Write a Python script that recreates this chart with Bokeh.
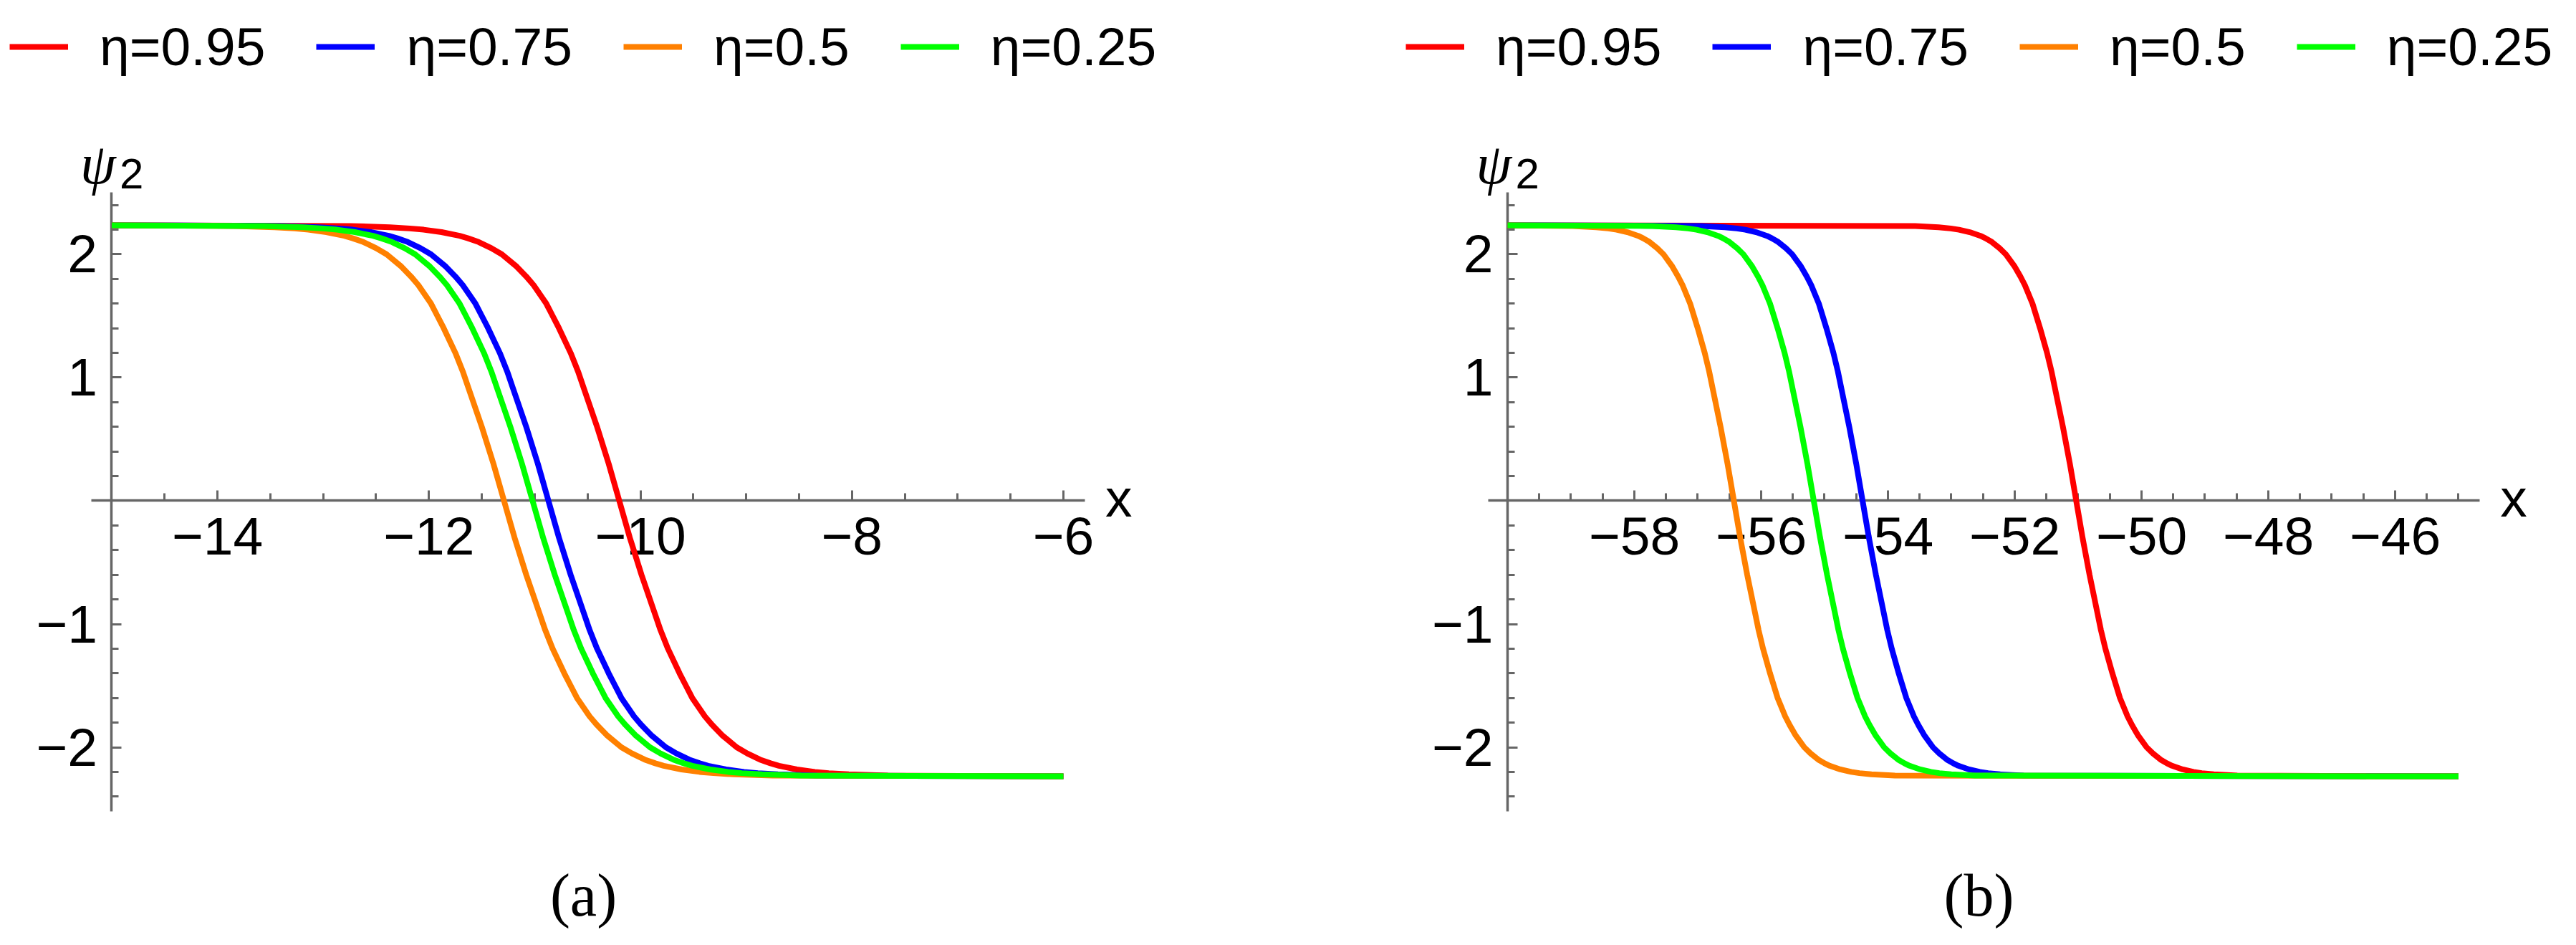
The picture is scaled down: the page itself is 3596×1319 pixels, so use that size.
from bokeh.plotting import figure
from bokeh.models import FixedTicker, Label, Legend, LegendItem, Range1d
from bokeh.layouts import row
from bokeh.embed import file_html
from bokeh.resources import INLINE

# ---------------- data ----------------
psi_levels = [2.236, 2.23, 2.22, 2.21, 2.2, 2.18, 2.15, 2.13, 2.1, 2.05, 2.0, 1.9, 1.82, 1.75, 1.6, 1.5,
              1.4, 1.2, 1.05, 0.9, 0.6, 0.3, 0.0, -0.3, -0.6, -0.9, -1.05, -1.2, -1.4, -1.5, -1.6, -1.75,
              -1.82, -1.9, -2.0, -2.05, -2.1, -2.13, -2.15, -2.18, -2.2, -2.21, -2.22, -2.23, -2.236]

# panel (a)
xa_red = [-15.0, -12.74, -12.37, -12.18, -12.05, -11.88, -11.71, -11.63, -11.53, -11.41, -11.31, -11.17,
          -11.08, -11.01, -10.89, -10.83, -10.77, -10.66, -10.59, -10.53, -10.41, -10.30, -10.20,
          -10.10, -9.99, -9.87, -9.81, -9.74, -9.63, -9.57, -9.51, -9.39, -9.32, -9.23, -9.09, -8.99,
          -8.87, -8.77, -8.69, -8.52, -8.35, -8.22, -8.03, -7.66, -6.0]
xa_blue = [-15.0, -13.41, -13.04, -12.85, -12.72, -12.55, -12.38, -12.30, -12.20, -12.08, -11.98, -11.84,
           -11.75, -11.68, -11.56, -11.50, -11.44, -11.33, -11.26, -11.20, -11.08, -10.97, -10.87,
           -10.77, -10.66, -10.54, -10.48, -10.41, -10.30, -10.24, -10.18, -10.06, -9.99, -9.90, -9.76,
           -9.66, -9.54, -9.44, -9.36, -9.19, -9.02, -8.89, -8.70, -8.33, -6.0]
xa_orange = [-15.0, -13.83, -13.46, -13.27, -13.14, -12.97, -12.80, -12.72, -12.62, -12.50, -12.40, -12.26,
             -12.17, -12.10, -11.98, -11.92, -11.86, -11.75, -11.68, -11.62, -11.50, -11.39, -11.29,
             -11.19, -11.08, -10.96, -10.90, -10.83, -10.72, -10.66, -10.60, -10.48, -10.41, -10.32,
             -10.18, -10.08, -9.96, -9.86, -9.78, -9.61, -9.44, -9.31, -9.12, -8.75, -6.0]
xa_green = [-15.0, -13.56, -13.19, -13.00, -12.87, -12.70, -12.53, -12.45, -12.35, -12.23, -12.13, -11.99,
            -11.90, -11.83, -11.71, -11.65, -11.59, -11.48, -11.41, -11.35, -11.23, -11.12, -11.02,
            -10.92, -10.81, -10.69, -10.63, -10.56, -10.45, -10.39, -10.33, -10.21, -10.14, -10.05,
            -9.91, -9.81, -9.69, -9.59, -9.51, -9.34, -9.17, -9.04, -8.85, -8.48, -6.0]

# panel (b)
xb_red = [-60.0, -53.57, -53.20, -53.01, -52.88, -52.71, -52.54, -52.46, -52.36, -52.24, -52.14, -52.00,
          -51.91, -51.84, -51.72, -51.66, -51.60, -51.49, -51.42, -51.36, -51.24, -51.13, -51.03,
          -50.93, -50.82, -50.70, -50.64, -50.57, -50.46, -50.40, -50.34, -50.22, -50.15, -50.06,
          -49.92, -49.82, -49.70, -49.60, -49.52, -49.35, -49.18, -49.05, -48.86, -48.49, -45.0]
xb_blue = [-60.0, -56.94, -56.57, -56.38, -56.25, -56.08, -55.91, -55.83, -55.73, -55.61, -55.51, -55.37,
           -55.28, -55.21, -55.09, -55.03, -54.97, -54.86, -54.79, -54.73, -54.61, -54.50, -54.40,
           -54.30, -54.19, -54.07, -54.01, -53.94, -53.83, -53.77, -53.71, -53.59, -53.52, -53.43,
           -53.29, -53.19, -53.07, -52.97, -52.89, -52.72, -52.55, -52.42, -52.23, -51.86, -45.0]
xb_orange = [-60.0, -58.97, -58.60, -58.41, -58.28, -58.11, -57.94, -57.86, -57.76, -57.64, -57.54, -57.40,
             -57.31, -57.24, -57.12, -57.06, -57.00, -56.89, -56.82, -56.76, -56.64, -56.53, -56.43,
             -56.33, -56.22, -56.10, -56.04, -55.97, -55.86, -55.80, -55.74, -55.62, -55.55, -55.46,
             -55.32, -55.22, -55.10, -55.00, -54.92, -54.75, -54.58, -54.45, -54.26, -53.89, -45.0]
xb_green = [-60.0, -57.71, -57.34, -57.15, -57.02, -56.85, -56.68, -56.60, -56.50, -56.38, -56.28, -56.14,
            -56.05, -55.98, -55.86, -55.80, -55.74, -55.63, -55.56, -55.50, -55.38, -55.27, -55.17,
            -55.07, -54.96, -54.84, -54.78, -54.71, -54.60, -54.54, -54.48, -54.36, -54.29, -54.20,
            -54.06, -53.96, -53.84, -53.74, -53.66, -53.49, -53.32, -53.19, -53.00, -52.63, -45.0]

series_labels = ["η=0.95", "η=0.75", "η=0.5", "η=0.25"]
series_colors = ["#ff0000", "#0000ff", "#ff8000", "#00ff00"]

# ticks
xa_major = [-14, -12, -10, -8, -6]
xa_major_labels = ["−14", "−12", "−10", "−8", "−6"]
xa_minor = [-14.5, -13.5, -13, -12.5, -11.5, -11, -10.5, -9.5, -9, -8.5, -7.5, -7, -6.5]
xb_major = [-58, -56, -54, -52, -50, -48, -46]
xb_major_labels = ["−58", "−56", "−54", "−52", "−50", "−48", "−46"]
xb_minor = [-59.5, -59, -58.5, -57.5, -57, -56.5, -55.5, -55, -54.5, -53.5, -53, -52.5,
            -51.5, -51, -50.5, -49.5, -49, -48.5, -47.5, -47, -46.5, -45.5, -45]
y_major = [-2, -1, 1, 2]
y_major_labels = ["−2", "−1", "1", "2"]
y_minor = [-2.4, -2.2, -1.8, -1.6, -1.4, -1.2, -0.8, -0.6, -0.4, -0.2,
           0.2, 0.4, 0.6, 0.8, 1.2, 1.4, 1.6, 1.8, 2.2, 2.4]

# ---------------- styling ----------------
AX = "#666666"
FONT = "Liberation Sans"
SERIF = "Liberation Serif"
W, H = 1790, 1303
Y_VIEW = (-3.5145, 4.061)
Y_BOUNDS = (-2.52, 2.50)


def make_panel(xs_list, x_view, x_bounds, yaxis_at, xmaj, xlab, xmin, legend_x, caption_x, caption):
    p = figure(width=W, height=H, output_backend="svg", toolbar_location=None,
               x_range=Range1d(*x_view), y_range=Range1d(*Y_VIEW), title=None)
    p.min_border = 0
    p.min_border_left = 0
    p.min_border_right = 0
    p.min_border_top = 0
    p.min_border_bottom = 0
    p.xgrid.visible = False
    p.ygrid.visible = False
    p.outline_line_color = None
    p.background_fill_color = "white"
    p.border_fill_color = "white"

    renderers = []
    for xs, col in zip(xs_list, series_colors):
        r = p.line(xs, psi_levels, line_color=col, line_width=8, level="overlay")
        renderers.append(r)

    p.xaxis.fixed_location = 0
    p.yaxis.fixed_location = yaxis_at
    p.xaxis.bounds = x_bounds
    p.yaxis.bounds = Y_BOUNDS
    p.xaxis.ticker = FixedTicker(ticks=xmaj, minor_ticks=xmin)
    p.xaxis.major_label_overrides = {float(v): s for v, s in zip(xmaj, xlab)}
    p.yaxis.ticker = FixedTicker(ticks=y_major, minor_ticks=y_minor)
    p.yaxis.major_label_overrides = {float(v): s for v, s in zip(y_major, y_major_labels)}
    for ax in (p.xaxis, p.yaxis):
        ax.axis_line_color = AX
        ax.axis_line_width = 3.5
        ax.major_tick_line_color = AX
        ax.major_tick_line_width = 3
        ax.minor_tick_line_color = AX
        ax.minor_tick_line_width = 3
        ax.major_tick_in = 14
        ax.major_tick_out = 0
        ax.minor_tick_in = 10
        ax.minor_tick_out = 0
        ax.major_label_text_font = FONT
        ax.major_label_text_font_size = "75px"
        ax.major_label_text_color = "black"
    p.xaxis.major_label_standoff = 24
    p.yaxis.major_label_standoff = 20

    legend = Legend(items=[LegendItem(label=lab, renderers=[r]) for lab, r in zip(series_labels, renderers)],
                    location=(legend_x, 1193), orientation="horizontal",
                    glyph_width=82, glyph_height=90, label_height=90, label_standoff=44,
                    spacing=71, padding=0, margin=0, border_line_color=None,
                    background_fill_alpha=0, label_text_font=FONT,
                    label_text_font_size="75px", label_text_color="black")
    p.add_layout(legend)

    # axis labels
    p.add_layout(Label(x=yaxis_at, x_units="data", x_offset=-44, y=1075, y_units="screen",
                       text="ψ", text_font=SERIF, text_font_style="italic",
                       text_font_size="80px", text_baseline="alphabetic", text_color="black"))
    p.add_layout(Label(x=yaxis_at, x_units="data", x_offset=11, y=1061, y_units="screen",
                       text="2", text_font=FONT, text_font_size="60px",
                       text_baseline="alphabetic", text_color="black"))
    p.add_layout(Label(x=x_bounds[1], y=0, x_offset=29, y_offset=4, text="x", text_font=FONT,
                       text_font_size="75px", text_baseline="middle", text_color="black"))
    p.add_layout(Label(x=caption_x, y=54, x_units="screen", y_units="screen", text=caption,
                       text_font=SERIF, text_font_size="84px", text_align="center",
                       text_baseline="alphabetic", text_color="black"))
    return p


pa = make_panel([xa_red, xa_blue, xa_orange, xa_green], (-16.053, -3.927), (-15.19, -5.80), -15,
                xa_major, xa_major_labels, xa_minor, 13, 814, "(a)")
pb = make_panel([xb_red, xb_blue, xb_orange, xb_green], (-63.548, -43.322), (-60.30, -44.67), -60,
                xb_major, xb_major_labels, xb_minor, 172, 972, "(b)")

layout = row(pa, pb)
open("out.html", "w").write(file_html(layout, INLINE))
